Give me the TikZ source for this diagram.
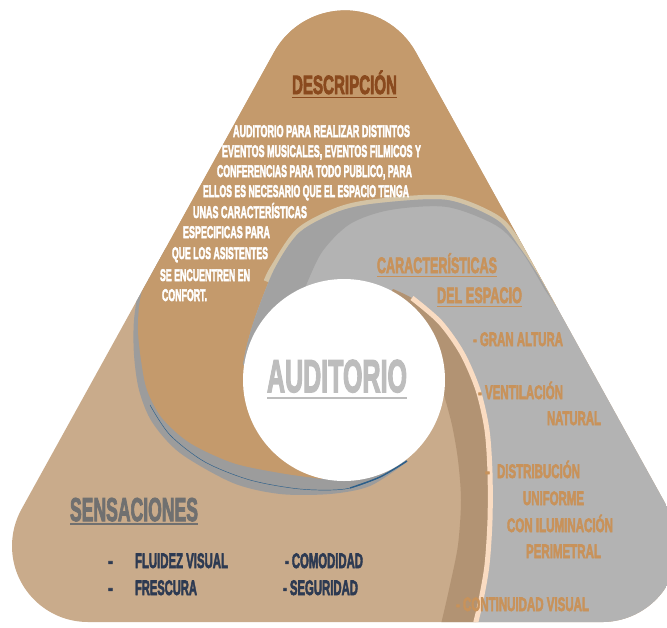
\documentclass[tikz,border=0pt]{standalone}
\usepackage{fontspec}
\usepackage{graphicx}
\newfontfamily\bb{Liberation Sans}[BoldFeatures={FakeBold=3.5}]
\newcommand{\fw}[2]{\resizebox{#1pt}{\height}{#2}}
\definecolor{dtan}{HTML}{C49A6C}
\definecolor{ltan}{HTML}{C9AB8B}
\definecolor{gry}{HTML}{B3B3B3}
\definecolor{dgry}{HTML}{A2A2A2}
\definecolor{shad}{HTML}{9C9C9C}
\definecolor{beige}{HTML}{D3C3A5}
\definecolor{peach}{HTML}{FADCC2}
\definecolor{lband}{HTML}{B29373}
\definecolor{bluel}{HTML}{2C5F8A}
\definecolor{descc}{HTML}{8A4A1E}
\definecolor{carc}{HTML}{C8925A}
\definecolor{audc}{HTML}{BDBDBD}
\definecolor{sentc}{HTML}{707070}
\definecolor{senc}{HTML}{2D3A52}
\tikzset{
 tb/.style={inner sep=0pt, outer sep=0pt, anchor=base west},
 desc/.style={tb, text=white, font=\bb\bfseries\fontsize{17}{18}\selectfont},
 cart/.style={tb, text=carc, font=\bb\bfseries\fontsize{22.3}{24}\selectfont},
 cari/.style={tb, text=carc, font=\bb\bfseries\fontsize{19.5}{21}\selectfont},
 seni/.style={tb, text=senc, font=\bb\bfseries\fontsize{21}{23}\selectfont},
}
\begin{document}
\begin{tikzpicture}[x=1pt,y=-1pt]
\useasboundingbox (0,0) rectangle (667,627);
\clip (0,0) rectangle (667,627);
\coordinate (O) at (344,380);
\begin{scope}
\clip (274.1,52.1) arc[start angle=209,end angle=331,radius=81] -- (668.5,509.2) arc[start angle=-29,end angle=90,radius=76] -- (88,622) arc[start angle=90,end angle=209,radius=76] -- cycle;
\fill[ltan] (-10,-10) rectangle (700,700);
% shadow band of the top blade
\fill[shad] (100,200) -- plot[smooth] coordinates {(155,250) (140,285) (134,320) (134,355) (139,390) (152,422) (180,453) (233,483) (280,494) (330,494) (370,486) (407,462)} -- (O) -- cycle;
\draw[bluel, line width=0.45pt] plot[smooth] coordinates {(150,405) (170,435) (205,462) (250,480) (300,489) (345,489) (380,477) (407,461)};
\draw[bluel, line width=1.4pt] plot[smooth] coordinates {(350,488) (380,477) (407,461)};
% top blade
\fill[dtan] (O) -- plot[smooth] coordinates {(243,365) (247,345) (256,315) (275,268) (300,232) (340,211) (380,203) (447,200) (497,220) (520,248) (538,275) (555,305)} -- (700,305) -- (700,-30) -- (60,-30) -- (60,200) -- plot[smooth] coordinates {(165,220) (150,262) (140,300) (138,330) (141,360) (147,390) (162,418) (190,443) (233,463) (280,473) (322,479)} -- cycle;
\draw[beige, line width=9pt] plot[smooth] coordinates {(268,282) (275,268) (300,232) (340,211) (380,203) (447,200) (497,220) (520,248) (538,275) (555,305)};
% gray blade
\fill[gry] (O) -- plot[smooth] coordinates {(243,365) (247,345) (256,315) (275,268) (300,232) (340,211) (380,203) (447,200) (497,220) (520,248) (538,275) (555,305)} -- (700,305) -- (700,660) -- (470,660) -- plot[smooth] coordinates {(470,650) (474,630) (481,600) (487,565) (490,520) (490,473) (487,430) (478,390) (462,353) (440,322) (415,300) (393,289)} -- cycle;
\fill[dgry] (O) -- plot[smooth] coordinates {(243,365) (247,345) (256,315) (275,268) (300,232) (340,211) (380,203) (447,200) (497,220) (520,248) (538,275) (555,305)} -- (560,312) -- plot[smooth] coordinates {(545,290) (522,252) (497,226) (447,207) (390,210) (350,224) (322,252) (305,288)} -- cycle;
% light blade edge
\fill[lband] (O) -- plot[smooth] coordinates {(393,289) (415,300) (440,322) (462,353) (478,390) (487,430) (490,473) (490,520) (487,565) (481,600) (474,630) (470,650)} -- (470,660) -- (436,660) -- plot[smooth] coordinates {(437,640) (442,620) (450,585) (458,545) (461,500) (458,460) (452,425) (444,395)} -- cycle;
\draw[peach, line width=5pt] plot[smooth] coordinates {(412,298) (440,322) (462,353) (478,390) (487,430) (490,473) (490,520) (487,565) (481,600) (474,630) (470,650)};
\end{scope}
% centre
\fill[white] (O) circle[radius=101];
\node[tb, text=audc, font=\bb\bfseries\fontsize{46}{48}\selectfont] (taud) at (267,392) {\fw{140}{AUDITORIO}};
\draw[audc, line width=2.7pt] ([yshift=-6pt]taud.base west) -- ([yshift=-6pt]taud.base east);
% description
\node[tb, text=descc, font=\bb\bfseries\fontsize{26.5}{28}\selectfont] (tdesc) at (292,94) {\fw{105}{DESCRIPCIÓN}};
\draw[descc, line width=1.5pt] ([yshift=-3.5pt]tdesc.base west) -- ([yshift=-3.5pt]tdesc.base east);
\node[desc] (d1) at (233,137) {\fw{177}{AUDITORIO PARA REALIZAR DISTINTOS}};
\node[desc] (d2) at (222,157) {\fw{199}{EVENTOS MUSICALES, EVENTOS FILMICOS Y}};
\node[desc] (d3) at (217,177) {\fw{195}{CONFERENCIAS PARA TODO PUBLICO, PARA}};
\node[desc] (d4) at (203,197) {\fw{206}{ELLOS ES NECESARIO QUE EL ESPACIO TENGA}};
\node[desc] (d5) at (193,218) {\fw{114}{UNAS CARACTERÍSTICAS}};
\node[desc] (d6) at (183,238) {\fw{87}{ESPECIFICAS PARA}};
\node[desc] (d7) at (172,259) {\fw{96}{QUE LOS ASISTENTES}};
\node[desc] (d8) at (160,281) {\fw{90}{SE ENCUENTREN EN}};
\node[desc] (d9) at (162,301) {\fw{45}{CONFORT.}};
% characteristics
\node[cart] (c1) at (377,273) {\fw{120}{CARACTERÍSTICAS}};
\draw[carc, line width=1.3pt] ([yshift=-3.5pt]c1.base west) -- ([yshift=-3.5pt]c1.base east);
\node[cart] (c2) at (437,303) {\fw{85}{DEL ESPACIO}};
\draw[carc, line width=1.3pt] ([yshift=-3.5pt]c2.base west) -- ([yshift=-3.5pt]c2.base east);
\node[cari] (i1) at (473,346) {\fw{90}{- GRAN ALTURA}};
\node[cari] (i2) at (478,399) {\fw{85}{- VENTILACIÓN}};
\node[cari] (i3) at (547,425) {\fw{54}{NATURAL}};
\node[cari] (i4a) at (485,478) {\fw{5}{-}};
\node[cari] (i4) at (497,478) {\fw{83}{DISTRIBUCIÓN}};
\node[cari] (i5) at (523,505) {\fw{61}{UNIFORME}};
\node[cari] (i6) at (507,532) {\fw{106}{CON ILUMINACIÓN}};
\node[cari] (i7) at (526,558) {\fw{75}{PERIMETRAL}};
\node[cari] (i8) at (456,611) {\fw{133}{- CONTINUIDAD VISUAL}};
% sensaciones
\node[tb, text=sentc, font=\bb\bfseries\fontsize{33}{35}\selectfont] (tsen) at (70,521) {\fw{128}{SENSACIONES}};
\draw[sentc, line width=2pt] ([yshift=-3pt]tsen.base west) -- ([yshift=-3pt]tsen.base east);
\node[seni] (s0) at (108,568) {\fw{5}{-}};
\node[seni] (s1) at (135,568) {\fw{93}{FLUIDEZ VISUAL}};
\node[seni] (s2) at (108,595) {\fw{5}{-}};
\node[seni] (s3) at (135,595) {\fw{62}{FRESCURA}};
\node[seni] (s4) at (285,568) {\fw{78}{- COMODIDAD}};
\node[seni] (s5) at (283,595) {\fw{75}{- SEGURIDAD}};
\end{tikzpicture}
\end{document}
